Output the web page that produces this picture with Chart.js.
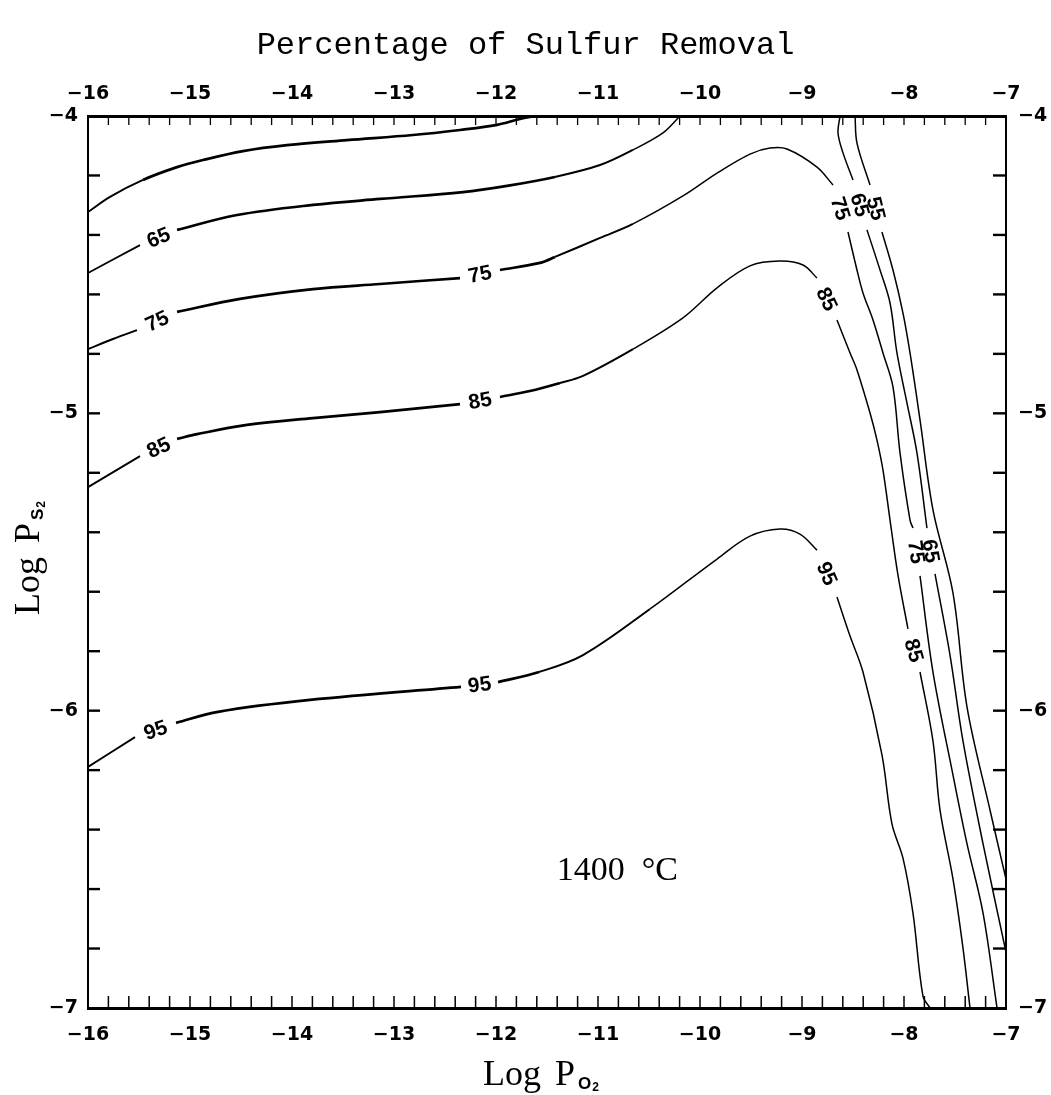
<!DOCTYPE html>
<html>
<head>
<meta charset="utf-8">
<script src="https://cdn.jsdelivr.net/npm/chart.js@4.4.1/dist/chart.umd.min.js"></script>
<style>
  html, body { margin: 0; padding: 0; background: #ffffff; }
  #wrap { width: 1051px; height: 1095px; position: relative; background: #ffffff; }
</style>
</head>
<body>
<div id="wrap"><canvas id="c" width="1051" height="1095"></canvas></div>
<script>
// ---------------- DATA ----------------
const xTickLabels = ['\u221216','\u221215','\u221214','\u221213','\u221212','\u221211','\u221210','\u22129','\u22128','\u22127'];
const yTickLabels = ['\u22127','\u22126','\u22125','\u22124'];
const contourLevels = [55, 65, 75, 85, 95];

// null = break in the line where the contour label sits
const pO2_55a = [-16.00,-15.784,-15.461,-15.127,-14.873,-14.480,-14.049,-13.461,-12.814,-12.353,-11.990,-11.765,-11.618];
const pS2_55a = [-4.323,-4.272,-4.215,-4.172,-4.148,-4.118,-4.098,-4.081,-4.064,-4.047,-4.030,-4.010,-4.000];

const pO2_55b = [-8.480,-8.461,-8.333,null,-8.216,-8.108,-8.010,-7.941,-7.843,-7.716,-7.520,-7.382,-7.157,-7.000];
const pS2_55b = [-4.000,-4.091,-4.232,null,-4.390,-4.518,-4.663,-4.797,-5.022,-5.325,-5.604,-5.988,-6.334,-6.566];

const pO2_65a = [-16.00,-15.490,null,-15.127,-14.539,-13.794,-13.137,-12.324,-11.892,-11.422,-10.980,-10.657,-10.363,-10.196];
const pS2_65a = [-4.528,-4.434,null,-4.383,-4.333,-4.299,-4.279,-4.256,-4.235,-4.205,-4.165,-4.114,-4.057,-4.000];

const pO2_65b = [-8.627,-8.647,-8.598,-8.500,null,-8.363,-8.235,-8.137,-8.069,-7.971,-7.873,-7.775,null,-7.696,-7.549,-7.422,-7.225,-7.000];
const pS2_65b = [-4.000,-4.057,-4.124,-4.215,null,-4.383,-4.518,-4.629,-4.797,-4.965,-5.133,-5.386,null,-5.540,-5.813,-6.102,-6.448,-6.812];

const pO2_75 = [-16.00,-15.755,-15.520,null,-15.127,-14.510,-13.794,-13.137,-12.353,null,-11.961,-11.569,-11.422,-10.980,-10.657,-10.167,-9.833,-9.510,-9.314,-9.147,-8.853,-8.696,null,-8.549,-8.461,-8.402,-8.304,-8.206,-8.108,-8.039,-7.941,-7.912,null,-7.843,-7.716,-7.520,-7.382,-7.225,-7.088];
const pS2_75 = [-4.784,-4.750,-4.720,null,-4.659,-4.615,-4.582,-4.565,-4.545,null,-4.518,-4.494,-4.474,-4.410,-4.363,-4.269,-4.192,-4.128,-4.108,-4.111,-4.172,-4.232,null,-4.390,-4.518,-4.595,-4.686,-4.797,-4.911,-5.133,-5.359,-5.386,null,-5.547,-5.870,-6.216,-6.448,-6.681,-7.000];

const pO2_85 = [-16.00,-15.490,null,-15.127,-14.931,-14.441,-13.794,-13.137,-12.353,null,-11.961,-11.667,-11.373,-11.147,-10.657,-10.167,-9.833,-9.510,-9.216,-8.990,-8.853,null,-8.657,-8.529,-8.461,-8.333,-8.265,-8.206,-8.137,-8.059,-7.961,null,-7.843,-7.716,-7.647,-7.520,-7.422,-7.353];
const pS2_85 = [-5.248,-5.144,null,-5.086,-5.070,-5.039,-5.016,-4.996,-4.969,null,-4.945,-4.925,-4.898,-4.874,-4.784,-4.679,-4.578,-4.504,-4.488,-4.501,-4.545,null,-4.686,-4.797,-4.854,-4.999,-5.090,-5.191,-5.359,-5.544,-5.725,null,-5.870,-6.102,-6.334,-6.566,-6.798,-7.000];

const pO2_95 = [-16.00,-15.539,null,-15.137,-14.725,-13.824,-12.343,null,-11.980,-11.578,-11.147,-10.490,-9.833,-9.510,-9.216,-9.020,-8.853,null,-8.657,-8.529,-8.402,-8.216,-8.118,-8.010,-7.912,-7.814,-7.745];
const pS2_95 = [-6.189,-6.089,null,-6.041,-6.004,-5.964,-5.920,null,-5.904,-5.870,-5.813,-5.658,-5.490,-5.413,-5.389,-5.406,-5.460,null,-5.618,-5.749,-5.870,-6.149,-6.381,-6.496,-6.681,-6.960,-7.000];

const branches = [
  {level: contourLevels[0], x: pO2_55a, y: pS2_55a},
  {level: contourLevels[0], x: pO2_55b, y: pS2_55b},
  {level: contourLevels[1], x: pO2_65a, y: pS2_65a},
  {level: contourLevels[1], x: pO2_65b, y: pS2_65b},
  {level: contourLevels[2], x: pO2_75,  y: pS2_75},
  {level: contourLevels[3], x: pO2_85,  y: pS2_85},
  {level: contourLevels[4], x: pO2_95,  y: pS2_95}
];

const titleText = 'Percentage of Sulfur Removal';
const tempText = '1400  \u00B0C';
const tempAt = {x: -10.81, y: -6.57};

// ---------------- HELPERS ----------------
function tickLabel(value, labels, min) {
  const r = Math.round(value);
  if (Math.abs(value - r) < 1e-6) return labels[r - min];
  return '';
}

function segWidth(c) {
  const m = (c.p0.parsed.x + c.p1.parsed.x) / 2;
  if (m < -15.5) return 1.9;
  if (m <= -11.4) return 2.7;
  if (m <= -10.6) return 2.0;
  return 1.5;
}

const datasets = branches.map(b => ({
  level: b.level,
  data: b.x.map((v, i) => ({x: v, y: b.y[i]})),
  showLine: true,
  borderColor: '#000',
  borderWidth: 1.5,
  pointRadius: 0,
  pointHoverRadius: 0,
  tension: 0.35,
  spanGaps: false,
  xAxisID: 'x',
  yAxisID: 'y',
  segment: {borderWidth: segWidth}
}));

const tickFont = {family: "'DejaVu Sans', 'Liberation Sans', sans-serif", size: 19, weight: 'bold'};

const inwardTicks = {
  id: 'inwardTicks',
  afterDatasetsDraw(chart) {
    const {ctx, chartArea: a, scales} = chart;
    ctx.save();
    ctx.strokeStyle = '#000';
    const hor = (scale, y0, len, w) => {
      ctx.lineWidth = w;
      scale.ticks.forEach(t => {
        const p = scale.getPixelForValue(t.value);
        if (p < a.left + 2 || p > a.right - 2) return;
        ctx.beginPath(); ctx.moveTo(p, y0); ctx.lineTo(p, y0 + len); ctx.stroke();
      });
    };
    const ver = (scale, x0, len, w) => {
      ctx.lineWidth = w;
      scale.ticks.forEach(t => {
        const p = scale.getPixelForValue(t.value);
        if (p < a.top + 2 || p > a.bottom - 2) return;
        ctx.beginPath(); ctx.moveTo(x0, p); ctx.lineTo(x0 + len, p); ctx.stroke();
      });
    };
    hor(scales.x, a.bottom, -12, 1.5);
    hor(scales.x2, a.top, 9, 1.3);
    ver(scales.y, a.left, 12, 2.4);
    ver(scales.y2, a.right, -13, 2.4);
    ctx.restore();
  }
};

const contourLabels = {
  id: 'contourLabels',
  afterDatasetsDraw(chart) {
    const {ctx} = chart;
    const sx = chart.scales.x, sy = chart.scales.y;
    ctx.save();
    ctx.fillStyle = '#000';
    ctx.font = "bold 21px 'Liberation Sans', Arial, sans-serif";
    ctx.textAlign = 'center';
    ctx.textBaseline = 'middle';
    chart.data.datasets.forEach(ds => {
      const d = ds.data;
      for (let i = 1; i < d.length - 1; i++) {
        if (d[i].x !== null) continue;
        const p0 = {x: sx.getPixelForValue(d[i-1].x), y: sy.getPixelForValue(d[i-1].y)};
        const p1 = {x: sx.getPixelForValue(d[i+1].x), y: sy.getPixelForValue(d[i+1].y)};
        let ang = Math.atan2(p1.y - p0.y, p1.x - p0.x);
        if (ang > Math.PI / 2) ang -= Math.PI;
        if (ang < -Math.PI / 2) ang += Math.PI;
        ctx.save();
        ctx.translate((p0.x + p1.x) / 2, (p0.y + p1.y) / 2);
        ctx.rotate(ang);
        ctx.fillText(String(ds.level), 0, 1);
        ctx.restore();
      }
    });
    ctx.restore();
  }
};

function drawLogP(ctx, sub) {
  const big = "36px 'Liberation Serif', 'Times New Roman', serif";
  const subBig = "bold 17px 'Liberation Sans', Arial, sans-serif";
  const subSmall = "bold 12px 'Liberation Sans', Arial, sans-serif";
  ctx.font = big;
  const wLog = ctx.measureText('Log').width;
  const wP = ctx.measureText('P').width;
  const gap = 14;
  ctx.font = subBig;
  const wS = ctx.measureText(sub[0]).width;
  ctx.font = subSmall;
  const w2 = ctx.measureText(sub[1]).width;
  const total = wLog + gap + wP + 3 + wS + 1 + w2;
  let x = -total / 2;
  ctx.textAlign = 'left';
  ctx.textBaseline = 'alphabetic';
  ctx.font = big;
  ctx.fillText('Log', x, 0); x += wLog + gap;
  ctx.fillText('P', x, 0); x += wP + 3;
  ctx.font = subBig;
  ctx.fillText(sub[0], x, 4); x += wS + 1;
  ctx.font = subSmall;
  ctx.fillText(sub[1], x, 6);
}

const axisTitles = {
  id: 'axisTitles',
  afterDraw(chart) {
    const {ctx, chartArea: a} = chart;
    ctx.save();
    ctx.fillStyle = '#000';
    ctx.save();
    ctx.translate((a.left + a.right) / 2 - 6, 1085);
    drawLogP(ctx, 'O2');
    ctx.restore();
    ctx.save();
    ctx.translate(39, (a.top + a.bottom) / 2 - 4);
    ctx.rotate(-Math.PI / 2);
    drawLogP(ctx, 'S2');
    ctx.restore();
    ctx.font = "34px 'Liberation Serif', 'Times New Roman', serif";
    ctx.textAlign = 'center';
    ctx.textBaseline = 'alphabetic';
    ctx.fillText(tempText, chart.scales.x.getPixelForValue(tempAt.x), chart.scales.y.getPixelForValue(tempAt.y));
    ctx.restore();
  }
};

const commonTicks = {color: '#000', autoSkip: false, maxRotation: 0, minRotation: 0, stepSize: 0.2, font: tickFont};

new Chart(document.getElementById('c'), {
  type: 'scatter',
  data: {datasets},
  options: {
    responsive: false,
    animation: false,
    events: [],
    layout: {padding: 0},
    plugins: {
      legend: {display: false},
      tooltip: {enabled: false},
      title: {
        display: true,
        text: titleText,
        color: '#000',
        font: {family: "'Liberation Mono', 'Courier New', monospace", size: 32, weight: 'normal'},
        padding: {top: 26, bottom: 10}
      }
    },
    scales: {
      x: {
        type: 'linear', position: 'bottom', min: -16, max: -7,
        grid: {display: false, drawTicks: false},
        border: {display: true, color: '#000', width: 3},
        ticks: Object.assign({}, commonTicks, {padding: 16,
          callback: v => tickLabel(v, xTickLabels, -16)}),
        afterFit: s => { s.height = 87; }
      },
      x2: {
        type: 'linear', position: 'top', min: -16, max: -7,
        grid: {display: false, drawTicks: false},
        border: {display: true, color: '#000', width: 3},
        ticks: Object.assign({}, commonTicks, {padding: 11,
          callback: v => tickLabel(v, xTickLabels, -16)}),
        afterFit: s => { s.height = 41.6; }
      },
      y: {
        type: 'linear', position: 'left', min: -7, max: -4,
        grid: {display: false, drawTicks: false},
        border: {display: true, color: '#000', width: 2},
        ticks: Object.assign({}, commonTicks, {padding: 10,
          callback: v => tickLabel(v, yTickLabels, -7)}),
        afterFit: s => { s.width = 88; }
      },
      y2: {
        type: 'linear', position: 'right', min: -7, max: -4,
        grid: {display: false, drawTicks: false},
        border: {display: true, color: '#000', width: 2},
        ticks: Object.assign({}, commonTicks, {padding: 12,
          callback: v => tickLabel(v, yTickLabels, -7)}),
        afterFit: s => { s.width = 45; }
      }
    }
  },
  plugins: [inwardTicks, contourLabels, axisTitles]
});
</script>
</body>
</html>
